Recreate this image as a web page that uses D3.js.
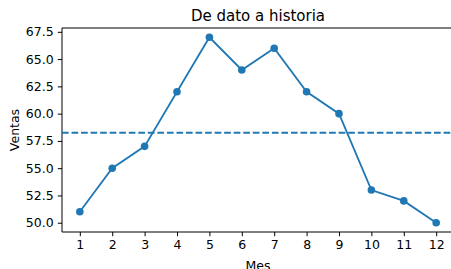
<!DOCTYPE html>
<html>
<head>
<meta charset="utf-8">
<script src="https://cdn.jsdelivr.net/npm/d3@7"></script>
<style>
  html, body { margin: 0; padding: 0; background: #fff; }
  svg { display: block; font-family: 'DejaVu Sans', sans-serif; }
</style>
</head>
<body>
<div id="chart"></div>
<script>
// data
const months = [1, 2, 3, 4, 5, 6, 7, 8, 9, 10, 11, 12];
const sales = [51, 55, 57, 62, 67, 64, 66, 62, 60, 53, 52, 50];
const yTicks = [50.0, 52.5, 55.0, 57.5, 60.0, 62.5, 65.0, 67.5];

const W = 451, H = 269;
const margin = { top: 28, right: -3, bottom: 37, left: 62 };
const width = W - margin.left - margin.right;
const height = H - margin.top - margin.bottom;
const blue = '#1f77b4';

const svg = d3.select('#chart').append('svg')
  .attr('width', W)
  .attr('height', H);

const g = svg.append('g')
  .attr('transform', `translate(${margin.left},${margin.top})`);

// matplotlib-like 5% margins
const xPad = (d3.max(months) - d3.min(months)) * 0.05;
const x = d3.scaleLinear()
  .domain([d3.min(months) - xPad, d3.max(months) + xPad])
  .range([0, width]);

const yPad = (d3.max(sales) - d3.min(sales)) * 0.05;
const y = d3.scaleLinear()
  .domain([d3.min(sales) - yPad, d3.max(sales) + yPad])
  .range([height, 0]);

const mean = d3.mean(sales);

// axes
const xAxis = g.append('g')
  .attr('transform', `translate(0,${height})`)
  .call(d3.axisBottom(x).tickValues(months).tickFormat(d3.format('d')).tickSize(4.2).tickPadding(4.2));

const yAxis = g.append('g')
  .call(d3.axisLeft(y).tickValues(yTicks).tickFormat(d3.format('.1f')).tickSize(4.2).tickPadding(4.2));

[xAxis, yAxis].forEach(a => {
  a.selectAll('.domain').remove();
  a.selectAll('.tick line').attr('stroke', '#000').attr('stroke-width', 1);
  a.selectAll('.tick text').attr('fill', '#000').style('font-size', '12.5px').style('font-family', 'DejaVu Sans, sans-serif');
});

// spines: left, bottom, top
g.append('line').attr('x1', 0).attr('x2', 0).attr('y1', 0).attr('y2', height)
  .attr('stroke', '#000').attr('stroke-width', 1);
g.append('line').attr('x1', 0).attr('x2', width).attr('y1', height).attr('y2', height)
  .attr('stroke', '#000').attr('stroke-width', 1);
g.append('line').attr('x1', 0).attr('x2', width).attr('y1', 0).attr('y2', 0)
  .attr('stroke', '#000').attr('stroke-width', 1);

// mean line
g.append('line')
  .attr('x1', 0).attr('x2', width)
  .attr('y1', y(mean)).attr('y2', y(mean))
  .attr('stroke', blue)
  .attr('stroke-width', 1.8)
  .attr('stroke-dasharray', '6.66,2.88');

// line + markers
const pts = months.map((m, i) => ({ m, v: sales[i] }));
g.append('path')
  .datum(pts)
  .attr('fill', 'none')
  .attr('stroke', blue)
  .attr('stroke-width', 1.8)
  .attr('d', d3.line().x(d => x(d.m)).y(d => y(d.v)));

g.selectAll('.dot')
  .data(pts)
  .enter().append('circle')
  .attr('class', 'dot')
  .attr('cx', d => x(d.m))
  .attr('cy', d => y(d.v))
  .attr('r', 3.8)
  .attr('fill', blue);

// title and labels
svg.append('text')
  .attr('x', margin.left + width / 2)
  .attr('y', 21)
  .attr('text-anchor', 'middle')
  .style('font-size', '15px')
  .text('De dato a historia');

svg.append('text')
  .attr('x', margin.left + width / 2)
  .attr('y', 269.5)
  .attr('text-anchor', 'middle')
  .style('font-size', '12.5px')
  .text('Mes');

svg.append('text')
  .attr('transform', `translate(19,${margin.top + height / 2}) rotate(-90)`)
  .attr('text-anchor', 'middle')
  .style('font-size', '12.5px')
  .text('Ventas');
</script>
</body>
</html>
